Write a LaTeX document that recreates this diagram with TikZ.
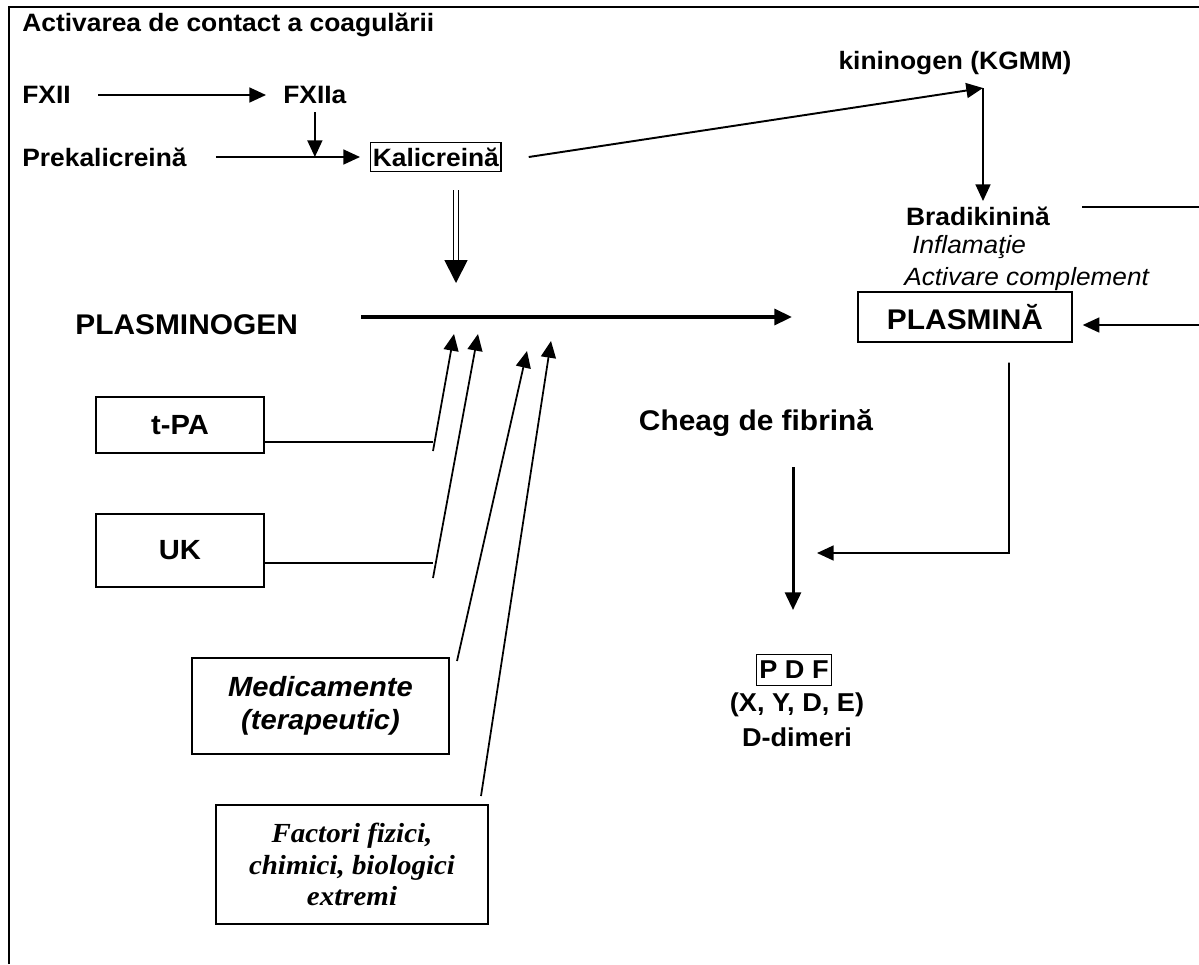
\documentclass[tikz,border=0pt]{standalone}
\usepackage{fontspec}
\setmainfont{Liberation Sans}[FakeStretch=1.05]
\newfontfamily\serifit{Liberation Serif}[FakeStretch=1.05]
\usetikzlibrary{arrows.meta,positioning,calc}

\begin{document}
\begin{tikzpicture}[
    x=0.02cm,y=-0.02cm,
    lbl/.style={inner sep=0pt,font=\fontsize{14.3}{17}\selectfont\bfseries},
    biglbl/.style={inner sep=0pt,font=\fontsize{16.2}{19}\selectfont\bfseries},
    note/.style={inner sep=0pt,anchor=west,font=\fontsize{14.2}{17}\selectfont\itshape},
    agent/.style={draw,line width=0.8pt,minimum width=3.36cm,align=center,
      font=\fontsize{15.8}{19}\selectfont\bfseries},
    cause/.style={draw,line width=0.8pt,align=center,inner sep=0pt},
    flow/.style={-{Triangle[length=9.5pt,width=8.5pt]},line width=1.1pt},
    thinflow/.style={-{Triangle[length=9.5pt,width=8.5pt]},line width=1pt},
    mainflow/.style={-{Triangle[length=10pt,width=9pt]},line width=2pt},
    dblflow/.style={-{Triangle[length=13pt,width=13pt]},line width=1pt,double,double distance=1.8pt},
    link/.style={line width=0.9pt}
  ]
    \useasboundingbox (0,0) rectangle (1199,964);
    \draw[line width=1.4pt] (9,964) -- (9,7) -- (1199,7);

    % activarea de contact
    \node[lbl,anchor=west] (title) at (22,25) {Activarea de contact a coagulării};
    \node[lbl,anchor=west] (fxii) at (22,95) {FXII};
    \node[lbl,anchor=west] (fxiia) at (283,95) {FXIIa};
    \node[lbl,anchor=west] (prek) at (22,157) {Prekalicreină};
    \node[lbl,draw,line width=0.8pt,inner xsep=1.2pt,inner ysep=3pt,anchor=west] (kal) at (370,157) {Kalicreină};
    \node[lbl] (kgmm) at (955,63) {kininogen (KGMM)};
    \coordinate (kgtop) at (983,88);
    \node[lbl] (brad) at (978,216) {Bradikinină};
    \node[note] (infl) at (912,247) {Inflamaţie};
    \node[note] (compl) at (904,279) {Activare complement};

    \draw[flow] ([xshift=0.54cm]fxii.east) -- ([xshift=-0.34cm]fxiia.west);
    \draw[flow] ([yshift=-0.16cm]fxiia.south) -- (fxiia.south |- prek.east);
    \draw[flow] ([xshift=0.58cm]prek.east) -- ([xshift=-0.2cm]kal.west);
    \draw[flow] ([xshift=0.54cm]kal.east) -- (kgtop);
    \draw[flow,shorten >=3pt] (kgtop) -- (kgtop |- brad.north);

    % fibrinoliza
    \node[biglbl,anchor=west] (plg) at (75,325) {PLASMINOGEN};
    \node[biglbl,draw,line width=0.8pt,minimum width=4.28cm,minimum height=1cm] (plasmina) at (965,317) {PLASMINĂ};
    \coordinate (split) at (361,317);
    \coordinate (join) at (792,317);
    \draw[mainflow] (split) -- (join);
    \draw[dblflow] (456,190) -- (456,283);

    \coordinate (bkend) at (1082,207);
    \coordinate (bkedge) at (1199,207);
    \draw[line width=1.1pt] (bkend) -- (bkedge);
    \coordinate (pledge) at (1199,325);
    \draw[flow] (pledge) -- ([xshift=0.2cm]plasmina.east |- pledge);

    % activatori
    \node[agent,minimum height=1.12cm] (tpa) at (180,425) {t-PA};
    \node[agent,minimum height=1.46cm] (uk) at (180,550.5) {UK};
    \node[cause,minimum width=5.14cm,minimum height=1.92cm,
      font=\fontsize{15.8}{18.5}\selectfont\bfseries\itshape] (med) at (320.5,706) {Medicamente\\(terapeutic)};
    \node[cause,minimum width=5.44cm,minimum height=2.38cm,
      font=\serifit\fontsize{15.7}{17.9}\selectfont\bfseries\itshape] (fact) at (352,864.5) {Factori fizici,\\chimici, biologici\\extremi};

    \coordinate (t1) at (433,442);
    \coordinate (u1) at (433,563);
    \draw[link] (tpa.east |- t1) -- (t1);
    \draw[link] (uk.east |- u1) -- (u1);
    \draw[thinflow] (433,451) -- (454,334);
    \draw[thinflow] (433,578) -- (478,334);
    \draw[thinflow] (457,661) -- (527,351);
    \draw[thinflow] (481,796) -- (551,341);

    % degradarea cheagului
    \node[biglbl] (cheag) at (756,423) {Cheag de fibrină};
    \node[lbl,draw,line width=0.8pt,inner xsep=1.5pt,inner ysep=3.8pt,
      font=\fontsize{14.7}{17}\selectfont\bfseries] (pdf) at (794,670) {P D F};
    \node[lbl,font=\fontsize{14.7}{17}\selectfont\bfseries] (xyde) at (797,705) {(X, Y, D, E)};
    \node[lbl,font=\fontsize{14.7}{17}\selectfont\bfseries] (ddim) at (797,737) {D-dimeri};

    \draw[mainflow,line width=1.7pt] (793,467) -- (793,610);
    \coordinate (lyscorner) at (1009,553);
    \draw[flow] ([xshift=0.88cm,yshift=-0.4cm]plasmina.south) -- (lyscorner) -- (817,553);
  \end{tikzpicture}
\end{document}
